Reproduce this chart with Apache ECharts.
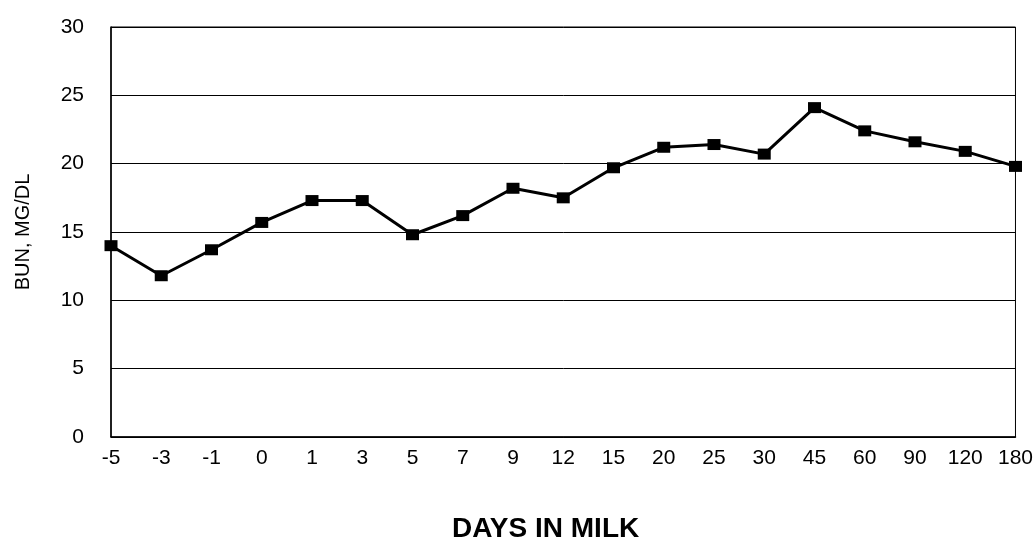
<!DOCTYPE html>
<html>
<head>
<meta charset="UTF-8">
<title>BUN</title>
<script src="https://cdn.jsdelivr.net/npm/echarts@6/dist/echarts.min.js"></script>
<style>
  html, body { margin: 0; padding: 0; background: #fff; }
  #chart { width: 1036px; height: 538px; }
</style>
</head>
<body>
<div id="chart"></div>
<script type="text/javascript">
  // days in milk (x categories)
  var days = ['-5', '-3', '-1', '0', '1', '3', '5', '7', '9', '12', '15', '20', '25', '30', '45', '60', '90', '120', '180'];
  // BUN, mg/dl
  var bun = [14.0, 11.8, 13.7, 15.7, 17.3, 17.3, 14.8, 16.2, 18.2, 17.5, 19.7, 21.2, 21.4, 20.7, 24.1, 22.4, 21.6, 20.9, 19.8];
  var yTicks = [0, 5, 10, 15, 20, 25, 30];

  var fontName = '"Liberation Sans", Arial, sans-serif';
  var myChart = echarts.init(document.getElementById('chart'));
  var option = {
    animation: false,
    backgroundColor: '#fff',
    title: {
      text: 'DAYS IN MILK',
      left: 447,
      top: 510,
      textStyle: { fontFamily: fontName, fontSize: 28, fontWeight: 'bold', color: '#000' }
    },
    grid: {
      show: true,
      left: 111, right: 16, top: 27, bottom: 101,
      borderColor: '#000', borderWidth: 1
    },
    xAxis: {
      type: 'category',
      boundaryGap: false,
      data: days,
      axisLine: { lineStyle: { color: '#000', width: 1.5 } },
      axisTick: { show: false },
      splitLine: { show: false },
      axisLabel: {
        interval: 0,
        margin: 11,
        color: '#000',
        fontFamily: fontName,
        fontSize: 21
      }
    },
    yAxis: {
      type: 'value',
      min: yTicks[0],
      max: yTicks[yTicks.length - 1],
      interval: 5,
      name: 'BUN, MG/DL',
      nameLocation: 'middle',
      nameGap: 78,
      nameTextStyle: { fontFamily: fontName, fontSize: 20, color: '#000' },
      axisLine: { show: true, lineStyle: { color: '#000', width: 1.5 } },
      axisTick: { show: false },
      splitLine: { lineStyle: { color: '#000', width: 1 } },
      axisLabel: {
        margin: 27,
        color: '#000',
        fontFamily: fontName,
        fontSize: 21,
        padding: [0, 0, 8, 0]
      }
    },
    series: [{
      type: 'line',
      data: bun,
      symbol: 'rect',
      symbolSize: [13, 11],
      lineStyle: { color: '#000', width: 3 },
      itemStyle: { color: '#000' }
    }]
  };
  myChart.setOption(option);
  window.onresize = myChart.resize;
</script>
</body>
</html>
